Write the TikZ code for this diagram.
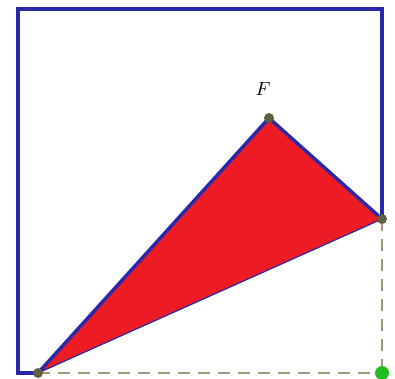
\documentclass[tikz,border=0pt]{standalone}
\usepackage{tikz}
\definecolor{edgeblue}{RGB}{40,40,170}
\definecolor{fillred}{RGB}{237,28,36}
\definecolor{dashgray}{RGB}{160,152,120}
\definecolor{dotgray}{RGB}{95,95,65}
\definecolor{dotgreen}{RGB}{30,190,30}
\tikzset{
  frame/.style={draw=edgeblue, line width=3.4pt, line join=miter},
  thinedge/.style={draw=edgeblue, line width=1.2pt},
  dashline/.style={draw=dashgray, line width=2.2pt, dash pattern=on 12pt off 8pt},
  vdot/.style={circle, fill=dotgray, inner sep=0pt, minimum size=10pt},
  gdot/.style={circle, fill=dotgreen, inner sep=0pt, minimum size=14pt},
  lbl/.style={scale=1.9, inner sep=0pt}
}
\begin{document}
\begin{tikzpicture}[x=1pt,y=-1pt]
\useasboundingbox (0,0) rectangle (395,378);
\coordinate (A) at (38,373);
\coordinate (F) at (269,118);
\coordinate (B) at (382,219);
\coordinate (C) at (382,373);
\coordinate (TL) at (18,9);
\coordinate (TR) at (382,9);
\coordinate (BL) at (18,373);
% red triangle
\fill[fillred] (A) -- (F) -- (B) -- cycle;
\draw[thinedge] (A) -- (B);
% dashed lines
\draw[dashline] (A) -- (C);
\draw[dashline] (B) -- (C);
% frame
\draw[frame] (A) -- (BL) -- (TL) -- (TR) -- (B);
\draw[frame, line join=round] (A) -- (F) -- (B);
% points
\node[vdot] (a) at (A) {};
\node[vdot] (f) at (F) {};
\node[vdot] (b) at (B) {};
\node[gdot] (c) at (C) {};
\node[lbl] (flabel) at (263,89) {$F$};
\end{tikzpicture}
\end{document}
